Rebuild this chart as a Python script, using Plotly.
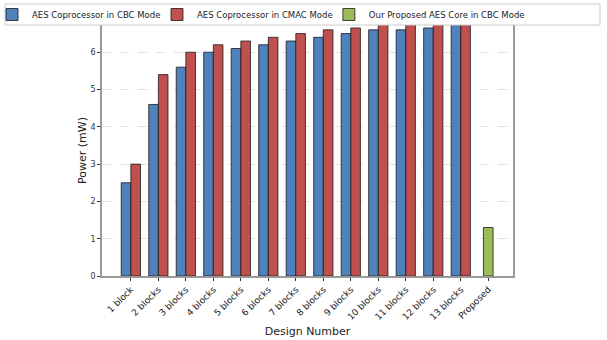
import plotly.graph_objects as go

categories = ["1 block", "2 blocks", "3 blocks", "4 blocks", "5 blocks", "6 blocks",
              "7 blocks", "8 blocks", "9 blocks", "10 blocks", "11 blocks",
              "12 blocks", "13 blocks", "Proposed"]
block_designs = categories[:13]
cbc_power = [2.5, 4.6, 5.6, 6.0, 6.1, 6.2, 6.3, 6.4, 6.5, 6.6, 6.6, 6.65, 6.75]
cmac_power = [3.0, 5.4, 6.0, 6.2, 6.3, 6.4, 6.5, 6.6, 6.65, 6.75, 6.8, 6.85, 6.9]
proposed_label = ["Proposed"]
proposed_power = [1.3]

FONT = "DejaVu Sans"
edge = dict(color="#1a1a1a", width=0.8)

fig = go.Figure()
fig.add_trace(go.Bar(x=block_designs, y=cbc_power, name="AES Coprocessor in CBC Mode",
                     marker=dict(color="#4F81BD", line=edge), width=0.35, offset=-0.35,
                     legend="legend"))
fig.add_trace(go.Bar(x=block_designs, y=cmac_power, name="AES Coprocessor in CMAC Mode",
                     marker=dict(color="#C0504D", line=edge), width=0.35, offset=0,
                     legend="legend2"))
fig.add_trace(go.Bar(x=proposed_label, y=proposed_power, name="Our Proposed AES Core in CBC Mode",
                     marker=dict(color="#9BBB59", line=edge), width=0.35, offset=-0.175,
                     legend="legend3"))

legend_common = dict(orientation="h", xanchor="left", yanchor="middle",
                     bgcolor="rgba(0,0,0,0)", borderwidth=0,
                     font=dict(family=FONT, size=8.5, color="#222"),
                     itemwidth=30, traceorder="normal")

fig.update_layout(
    width=607, height=340,
    margin=dict(l=102, r=94, t=25, b=64, autoexpand=False),
    paper_bgcolor="white", plot_bgcolor="white",
    font=dict(family=FONT, size=9, color="#333"),
    barmode="overlay",
    showlegend=True,
    legend=dict(legend_common, x=-0.2676, y=1.0418),
    legend2=dict(legend_common, x=0.1338, y=1.0418),
    legend3=dict(legend_common, x=0.552, y=1.0418),
    shapes=[dict(type="rect", xref="paper", yref="paper", x0=-0.236, x1=1.2117,
                 y0=1.0, y1=1.0837, fillcolor="white", line=dict(color="#cccccc", width=1),
                 layer="above")],
    xaxis=dict(type="category", categoryorder="array", categoryarray=categories,
               range=[-1.05, 13.9], tickangle=-45, ticks="outside", ticklen=3,
               tickcolor="#333", tickfont=dict(size=9, color="#222"),
               showline=True, linecolor="#999", linewidth=1.5, mirror=True,
               showgrid=False,
               title=dict(text="Design Number", font=dict(size=11, color="#222"), standoff=6)),
    yaxis=dict(range=[0, 6.73], tickvals=[0, 1, 2, 3, 4, 5, 6], ticks="outside", ticklen=3,
               tickcolor="#333", tickfont=dict(size=8, color="#333"),
               showline=True, linecolor="#999", linewidth=1.5, mirror=True,
               showgrid=True, gridcolor="#e0e0e0", griddash="dash", gridwidth=0.7,
               zeroline=False,
               title=dict(text="Power (mW)", font=dict(size=11, color="#222"), standoff=2)),
)

fig.write_html("out.html", config={"displayModeBar": False},
               post_script="document.body.style.margin='0';")
